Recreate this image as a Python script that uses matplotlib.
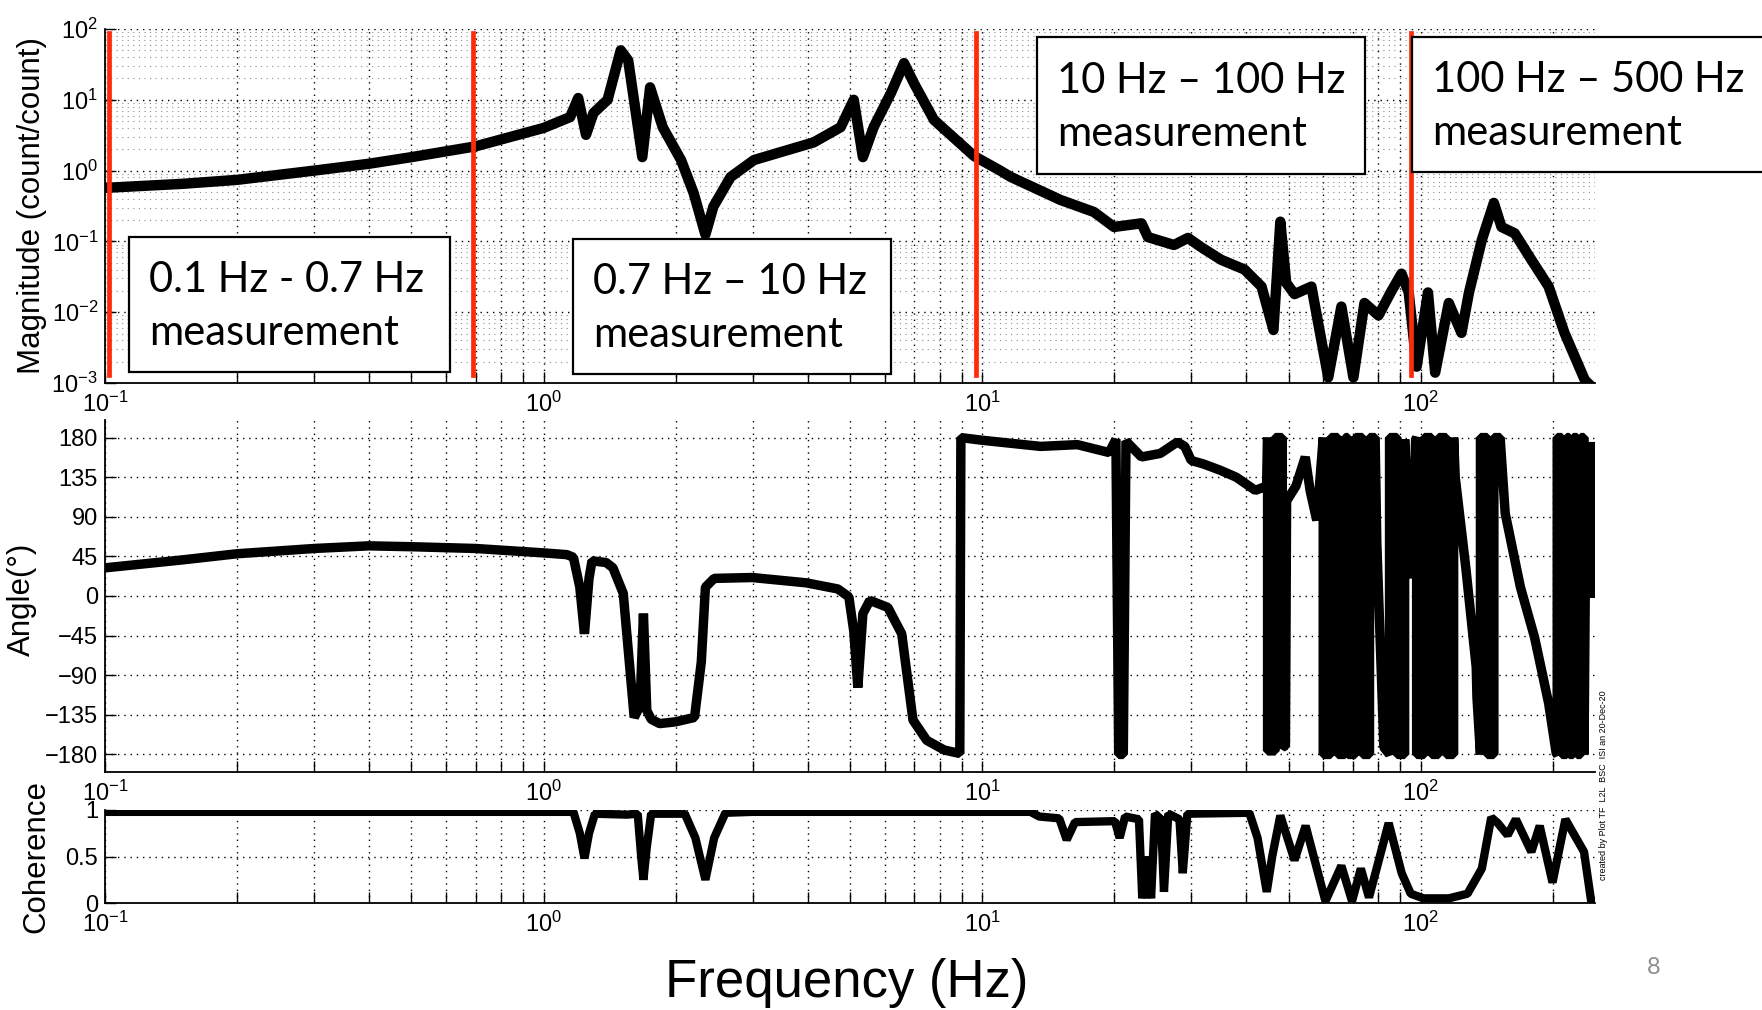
import matplotlib
matplotlib.use('Agg')
import matplotlib.pyplot as plt
from matplotlib.patches import Rectangle

plt.rcParams['font.family'] = ['Liberation Sans', 'DejaVu Sans']
plt.rcParams['mathtext.fontset'] = 'custom'
plt.rcParams['mathtext.rm'] = 'Liberation Sans'
plt.rcParams['mathtext.it'] = 'Liberation Sans:italic'

# magnitude (count/count) vs frequency (Hz)
mag_freq = [0.1, 0.15, 0.2, 0.3, 0.4, 0.5, 0.7, 1.0, 1.15, 1.2, 1.25, 1.3, 1.4, 1.5, 1.56,
            1.68, 1.75, 1.87, 2.06, 2.2, 2.34, 2.44, 2.67, 3.02, 3.47, 4.13, 4.76, 5.1, 5.35,
            5.66, 6.2, 6.64, 7.0, 7.77, 9.6, 11.0, 11.6, 15.1, 18.0, 20.0, 23.1, 23.9, 27.4,
            29.5, 31.6, 35.1, 39.7, 43.4, 46.2, 47.9, 49.4, 51.6, 56.4, 61.6, 66.0, 70.3, 74.5,
            80.2, 85.9, 90.5, 94.0, 98.0, 104, 108, 116, 124, 129, 138, 147, 153, 164, 179,
            196, 213, 237, 250]
mag_val = [0.57, 0.65, 0.74, 1.0, 1.25, 1.55, 2.2, 4.0, 5.7, 10.6, 3.2, 6.5, 10, 50, 36,
           1.55, 15, 4.1, 1.4, 0.48, 0.125, 0.31, 0.81, 1.41, 1.82, 2.5, 4.1, 10, 1.55,
           4.1, 12.5, 33, 17, 5.2, 1.6, 1.0, 0.82, 0.385, 0.26, 0.16, 0.18, 0.115, 0.089,
           0.112, 0.083, 0.055, 0.04, 0.023, 0.0056, 0.19, 0.026, 0.018, 0.023, 0.0012, 0.012, 0.0012, 0.0135,
           0.009, 0.02, 0.035, 0.019, 0.0017, 0.019, 0.0014, 0.0135, 0.0051, 0.019, 0.105, 0.35, 0.16, 0.13, 0.055,
           0.023, 0.0051, 0.0011, 0.0008]

# phase (deg); the solid black bands are the wrapped phase flipping between +180 and -180
ph_freq = [0.1, 0.15, 0.2, 0.3, 0.4, 0.5, 0.7, 1.0, 1.13, 1.17, 1.21, 1.24, 1.27, 1.29, 1.39,
           1.44, 1.52, 1.61, 1.66, 1.69, 1.72, 1.76, 1.84, 2.0, 2.21, 2.29, 2.34, 2.45, 2.99,
           3.97, 4.69, 4.97, 5.1, 5.21, 5.35, 5.55, 6.1, 6.56, 6.96, 7.48, 8.2, 8.9, 8.95,
           10.0, 13.6, 16.5, 19.5, 20.2, 20.5, 21.0, 21.3, 23.1, 25.5, 27.9, 29.0, 30.0, 32.0,
           34.9, 38.0, 42.0, 44.6,
           44.8, 44.8, 46.6, 46.6, 48.4, 48.4, 49.2,
           49.5, 52.0, 54.6, 56.0, 58.0,
           60.0, 60.0, 62.4, 62.4, 64.8, 64.8, 67.3, 67.3, 68.3, 68.3,
           71.0, 71.0, 73.8, 73.8, 76.5, 76.5, 78.8, 78.8,
           79.5, 82.5,
           85.0, 85.0, 88.4, 88.4, 92.0, 92.0,
           95.0, 97.5,
           98.0, 98.0, 102, 102, 106, 106, 110, 110, 114.5, 114.5, 119, 119,
           120, 127, 134, 134.5,
           137, 137, 142, 142, 147, 147, 152, 152,
           156, 169, 182, 196, 204,
           205, 205, 210, 210, 215.5, 215.5,
           218.5, 218.5, 223, 223, 227.5, 227.5, 232, 232, 236, 236,
           238, 241, 244, 246, 247, 249, 250]
ph_deg = [32, 41, 48, 54, 57, 56, 54, 49, 47, 44, 10, -43, 20, 40, 38,
          32, 3, -138, -125, -20, -130, -140, -145, -143, -138, -75, 10, 20, 21,
          15, 8, -1, -40, -104, -20, -5, -13, -43, -141, -164, -175, -179, 180,
          177, 170, 172, 163, 178, -180, -180, 176, 158, 162, 175, 170, 154, 150,
          143, 135, 120, 125,
          180, -176, -176, 180, 180, -172, -170,
          108, 125, 158, 120, 86,
          180, -180, -180, 180, 180, -180, -180, 180, 180, -180,
          -180, 180, 180, -180, -180, 180, 180, 180,
          60, -172,
          -180, 180, 180, -180, -180, 178,
          20, 178,
          180, -180, -180, 180, 180, -180, -180, 180, 180, -180, -180, 180,
          135, 30, -81, -115,
          -180, 180, 180, -180, -180, 180, 180, 178,
          94, 10, -47, -122, -179,
          -180, 180, 180, -180, -180, 180,
          180, -180, -180, 180, 180, -180, -180, 180, 180, -180,
          63, 170, 63, 175, -2, 175, -2]

# coherence
coh_freq = [0.1, 1.17, 1.21, 1.24, 1.27, 1.31, 1.55, 1.64, 1.67, 1.69, 1.72, 1.76, 2.1,
            2.22, 2.34, 2.45, 2.6, 3.0, 12.9, 13.5, 15.0, 15.6, 16.3, 20.1, 20.6, 21.2,
            22.8, 23.2, 23.8, 24.3, 24.8, 25.6, 26.0, 26.6, 28.2, 28.7, 29.4, 40.7, 42.5,
            44.6, 45.9, 47.9, 51.6, 54.7, 60.7, 66.0, 69.8, 73.1, 76.3, 84.6, 90.6, 95.0,
            101.5, 116, 128, 138, 145, 150, 158, 165, 179, 187, 200, 214, 236, 245, 250]
coh_val = [0.98, 0.98, 0.75, 0.48, 0.75, 0.96, 0.95, 0.96, 0.5, 0.25, 0.6, 0.96, 0.96,
           0.7, 0.25, 0.7, 0.97, 0.98, 0.98, 0.93, 0.91, 0.68, 0.87, 0.88, 0.7, 0.93,
           0.9, 0.05, 0.5, 0.05, 0.96, 0.9, 0.12, 0.96, 0.9, 0.32, 0.96, 0.97, 0.7,
           0.12, 0.5, 0.94, 0.46, 0.83, 0.02, 0.4, 0.02, 0.37, 0.06, 0.86, 0.32, 0.1,
           0.05, 0.05, 0.1, 0.37, 0.92, 0.86, 0.73, 0.9, 0.55, 0.83, 0.22, 0.9, 0.55, 0.02, 0.02]

bounds = [0.102, 0.69, 9.7, 95]
box_text = ['0.1 Hz - 0.7 Hz\nmeasurement', '0.7 Hz \u2013 10 Hz\nmeasurement',
            '10 Hz \u2013 100 Hz\nmeasurement', '100 Hz \u2013 500 Hz\nmeasurement']

W, H = 1762, 1010
fig = plt.figure(figsize=(W / 100, H / 100), dpi=100)


def pax(l, t, r, b):
    return fig.add_axes([l / W, 1 - b / H, (r - l) / W, (b - t) / H])


dots = (0, (1, 3.5))


def style(ax):
    ax.set_xscale('log')
    ax.set_xlim(0.1, 250)
    for s in ['top', 'right']:
        ax.spines[s].set_visible(False)
    for s in ['left', 'bottom']:
        ax.spines[s].set_linewidth(1.3)
    ax.tick_params(which='both', direction='in', length=8, width=1, labelsize=17)
    ax.tick_params(axis='x', pad=6)
    ax.tick_params(axis='y', pad=5)
    ax.grid(True, which='major', ls=dots, color='k', lw=1.0)
    ax.grid(True, which='minor', axis='x', ls=dots, color='k', lw=1.0)
    ax.xaxis.set_minor_formatter(plt.NullFormatter())


ax1 = pax(105, 29, 1595, 383)
style(ax1)
ax1.set_yscale('log')
ax1.set_ylim(1e-3, 1e2)
ax1.tick_params(axis='y', which='minor', length=0)
ax1.grid(True, which='minor', axis='y', ls=(0, (1, 4)), color='0.55', lw=0.8)
ax1.plot(mag_freq, mag_val, color='k', lw=7.5, solid_joinstyle='round')
for b in bounds:
    ax1.axvline(b, ymin=0.023, ymax=0.99, color='#ff2a0a', lw=3.4, zorder=5)
ax1.set_ylabel('Magnitude (count/count)', fontsize=22.5)
ax1.yaxis.set_label_coords(-0.039, 0.5)

ax2 = pax(105, 420, 1595, 772)
style(ax2)
ax2.set_ylim(-200, 200)
ax2.set_yticks(range(-180, 181, 45))
ax2.plot(ph_freq, ph_deg, color='k', lw=6.8, solid_joinstyle='bevel', solid_capstyle='butt')
ax2.set_ylabel('Angle(\u00b0)', fontsize=22.5)
ax2.yaxis.set_label_coords(-0.046, 0.49)

ax3 = pax(105, 810, 1595, 903)
style(ax3)
ax3.set_ylim(0, 1)
ax3.set_yticks([0, 0.5, 1])
ax3.set_yticklabels(['0', '0.5', '1'])
ax3.plot(coh_freq, coh_val, color='k', lw=6, solid_joinstyle='bevel')
ax3.set_ylabel('Coherence', fontsize=22.5)
ax3.yaxis.set_label_coords(-0.036, 0.5)
ax3.set_xlabel('Frequency (Hz)', fontsize=38, va='center')
ax3.xaxis.set_label_coords(0.498, -0.86)

# annotation layer in pixel units
ov = fig.add_axes([0, 0, 1, 1], zorder=10)
ov.set_xlim(0, W)
ov.set_ylim(H, 0)
ov.axis('off')
boxes = [(129, 237, 450, 372), (573, 239, 891, 374), (1037, 37, 1365, 174), (1412, 37, 1790, 172)]
for (l, t, r, b), s in zip(boxes, box_text):
    ov.add_patch(Rectangle((l, t), r - l, b - t, facecolor='white', edgecolor='k', lw=1.6))
    ov.text(l + 20, (t + b) / 2 + 2, s, family='Lato', fontsize=30, va='center', ha='left',
            linespacing=1.5)

fig.text(1654 / W, 1 - 968 / H, '8', family='Lato', fontsize=17, color='#8c8c8c',
         ha='center', va='center')
fig.text(1603 / W, 1 - 785 / H, 'created by Plot TF  L2L  BSC  ISI an 20-Dec-20',
         rotation=90, fontsize=6.5, ha='center', va='center')

fig.savefig('out.png', dpi=100)
